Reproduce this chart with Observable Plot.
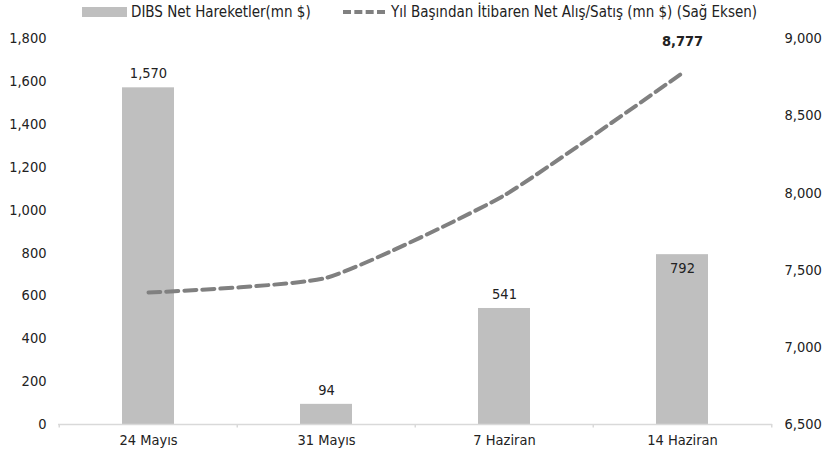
<!DOCTYPE html>
<html>
<head>
<meta charset="utf-8">
<script src="https://cdn.jsdelivr.net/npm/d3@7"></script>
<script src="https://cdn.jsdelivr.net/npm/@observablehq/plot@0.6"></script>
<style>
  body { margin: 0; background: #fff; font-family: "DejaVu Sans Condensed", "DejaVu Sans", sans-serif; }
  #legend { height: 24px; position: relative; font-size: 15px; color: #222; }
  .lg { position: absolute; top: 3px; display: flex; align-items: center; white-space: nowrap; }
  .sw-bar { width: 45px; height: 10px; background: #bfbfbf; margin-right: 4px; }
  .sw-line { width: 42px; height: 0; border-top: 4px dashed #808080; margin-right: 6px; }
</style>
</head>
<body>
<div id="legend">
  <div class="lg" style="left:82px"><span class="sw-bar"></span>DIBS Net Hareketler(mn $)</div>
  <div class="lg" style="left:343px"><span class="sw-line"></span>Yıl Başından İtibaren Net Alış/Satış (mn $) (Sağ Eksen)</div>
</div>
<div id="chart"></div>
<script>
const categories = ["24 Mayıs", "31 Mayıs", "7 Haziran", "14 Haziran"];
const barValues = [1570, 94, 541, 792];
const lineValues = [7355, 7450, 7985, 8777];
const leftTicks = [0, 200, 400, 600, 800, 1000, 1200, 1400, 1600, 1800];
const rightTicks = [6500, 7000, 7500, 8000, 8500, 9000];

const leftMax = 1800, rMin = 6500, rMax = 9000;
const toLeft = v => (v - rMin) / (rMax - rMin) * leftMax;
const toRight = v => rMin + v / leftMax * (rMax - rMin);

const bars = categories.map((c, i) => ({cat: c, v: barValues[i]}));
const line = categories.map((c, i) => ({cat: c, v: lineValues[i], y: toLeft(lineValues[i])}));
const fmt = d3.format(",");

const width = 826, height = 434, mL = 58, mR = 54;
const bw = (width - mL - mR) / categories.length;

const font = '"DejaVu Sans Condensed", "DejaVu Sans", sans-serif';
const fs = 14.5;

const chart = Plot.plot({
  width, height,
  marginLeft: mL, marginRight: mR, marginTop: 14, marginBottom: 34,
  style: {fontFamily: font, fontSize: fs + "px", color: "#222", background: "#fff"},
  x: {domain: categories, padding: 0, label: null},
  y: {domain: [0, leftMax], label: null},
  marks: [
    Plot.barY(bars, {x: "cat", y: "v", fill: "#bfbfbf", insetLeft: 63, insetRight: 63}),
    Plot.ruleY([0], {stroke: "#d9d9d9", strokeWidth: 1.5}),
    Plot.ruleX(categories, {x: d => d, y1: 0, y2: -16, dx: -bw / 2, stroke: "#d9d9d9", strokeWidth: 1.5}),
    Plot.ruleX([categories[categories.length - 1]], {x: d => d, y1: 0, y2: -16, dx: bw / 2, stroke: "#d9d9d9", strokeWidth: 1.5}),
    Plot.axisX({tickSize: 0, tickPadding: 10, fontSize: fs, fill: "#222"}),
    Plot.axisY({anchor: "left", ticks: leftTicks, tickFormat: fmt, tickSize: 0, tickPadding: 12, fontSize: fs, fill: "#222"}),
    Plot.axisY({anchor: "right", ticks: rightTicks.map(toLeft), tickFormat: d => fmt(Math.round(toRight(d))), tickSize: 0, tickPadding: 12, fontSize: fs, fill: "#222"}),
    Plot.line(line, {x: "cat", y: "y", stroke: "#808080", strokeWidth: 4, strokeDasharray: "12,6", curve: "cardinal", tension: 0.5}),
    Plot.text(bars.filter(d => d.v < 700 || d.v >= 1000), {x: "cat", y: "v", text: d => fmt(d.v), dy: -14, fill: "#222", fontSize: fs}),
    Plot.text(bars.filter(d => d.v >= 700 && d.v < 1000), {x: "cat", y: "v", text: d => fmt(d.v), dy: 14, fill: "#222", fontSize: fs}),
    Plot.text(line.slice(-1), {x: "cat", y: "y", text: d => fmt(d.v), dy: -32, fill: "#222", fontWeight: "bold", fontSize: fs})
  ]
});
document.getElementById("chart").appendChild(chart);
</script>
</body>
</html>
